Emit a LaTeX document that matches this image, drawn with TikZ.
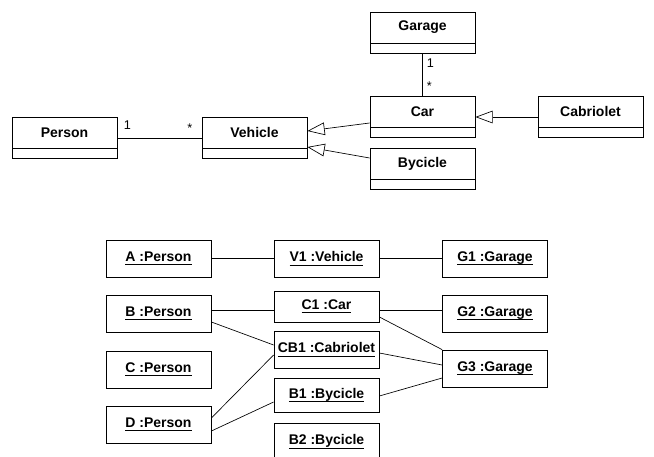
\documentclass[tikz,border=0pt]{standalone}
\usepackage{fontspec}
\setmainfont{Liberation Sans}
\usepackage{tikz}
\usetikzlibrary{arrows.meta,positioning,calc}
\newcommand{\objname}[1]{\underline{\smash{#1}\rule[-1pt]{0pt}{1pt}}\vphantom{#1}}

\begin{document}
\begin{tikzpicture}[
  x=0.75pt,y=-0.75pt,
  cls/.style={rectangle,draw=black,line width=0.6pt,minimum width=78.75pt,minimum height=23.25pt,inner sep=0pt,font=\bfseries\fontsize{10.5}{12}\selectfont},
  compart/.style={rectangle,draw=black,line width=0.6pt,minimum width=78.75pt,minimum height=7.5pt,inner sep=0pt},
  obj/.style={rectangle,draw=black,line width=0.6pt,minimum width=78.75pt,minimum height=27.75pt,inner sep=0pt,font=\bfseries\fontsize{10.5}{12}\selectfont},
  line/.style={draw=black,line width=0.5pt},
  inherit/.style={line,-{Triangle[open,length=13pt,width=9.5pt]}},
  mult/.style={font=\fontsize{9.5}{11}\selectfont,inner sep=1pt}
]
\clip (0,0) rectangle (654,457);
\node[cls] (garage) at (422.5,27.5) {Garage};
\node[cls] (car) at (422.5,111.5) {Car};
\node[cls] (cabriolet) at (590.5,111.5) {Cabriolet};
\node[cls] (person) at (64.5,132.5) {Person};
\node[cls] (vehicle) at (254.5,132.5) {Vehicle};
\node[cls] (bycicle) at (422.5,163.5) {Bycicle};
\node[compart,below=0pt of garage] (garageC) {};
\node[compart,below=0pt of car] (carC) {};
\node[compart,below=0pt of cabriolet] (cabrioletC) {};
\node[compart,below=0pt of person] (personC) {};
\node[compart,below=0pt of vehicle] (vehicleC) {};
\node[compart,below=0pt of bycicle] (bycicleC) {};
\draw[line] ($(person.east)+(0,5.5)$) -- node[mult,pos=0.12,above=5pt] {1} node[mult,pos=0.86,above=3pt] {*} ($(vehicle.west)+(0,5.5)$);
\draw[line] (garageC.south) -- node[mult,pos=0.21,right=2pt] {1} node[mult,pos=0.77,right=2pt] {*} (car.north);
\draw[inherit] ($(car.west)+(0,11.5)$) -- ($(vehicle.east)+(0,-1.5)$);
\draw[inherit] ($(bycicle.west)+(0,-5.5)$) -- ($(vehicle.east)+(0,14.5)$);
\draw[inherit] ($(cabriolet.west)+(0,5.5)$) -- ($(car.east)+(0,5.5)$);
\node[obj] (aperson) at (158.5,258.5) {\objname{A :Person}};
\node[obj] (v1) at (326.5,258.5) {\objname{V1 :Vehicle}};
\node[obj] (g1) at (495,258.5) {\objname{G1 :Garage}};
\node[obj] (bperson) at (158.5,313.5) {\objname{B :Person}};
\node[obj,minimum height=23.25pt] (c1) at (326.5,306.5) {\objname{C1 :Car}};
\node[obj] (g2) at (495,313.5) {\objname{G2 :Garage}};
\node[obj] (cb1) at (326.5,349.5) {\objname{CB1 :Cabriolet}};
\node[obj] (cperson) at (158.5,369.5) {\objname{C :Person}};
\node[obj] (g3) at (495,368.5) {\objname{G3 :Garage}};
\node[obj,minimum height=25.5pt] (b1) at (326.5,395) {\objname{B1 :Bycicle}};
\node[obj] (dperson) at (158.5,424.5) {\objname{D :Person}};
\node[obj] (b2) at (326.5,441.5) {\objname{B2 :Bycicle}};
\draw[line] (aperson) -- (v1);
\draw[line] (v1) -- (g1);
\draw[line] ($(bperson.east)+(0,-3.5)$) -- ($(c1.west)+(0,3.5)$);
\draw[line] ($(bperson.east)+(0,8.5)$) -- ($(cb1.west)+(0,-4.5)$);
\draw[line] ($(c1.east)+(0,3.5)$) -- ($(g2.west)+(0,-3.5)$);
\draw[line] ($(c1.east)+(0,10.5)$) -- (g3.north west);
\draw[line] ($(cb1.east)+(0,3.5)$) -- ($(g3.west)+(0,-3.5)$);
\draw[line] ($(b1.east)+(0,1)$) -- ($(g3.west)+(0,9.5)$);
\draw[line] ($(dperson.east)+(0,-6.5)$) -- ($(cb1.west)+(0,5.5)$);
\draw[line] ($(dperson.east)+(0,6.5)$) -- ($(b1.west)+(0,7)$);
\end{tikzpicture}
\end{document}
